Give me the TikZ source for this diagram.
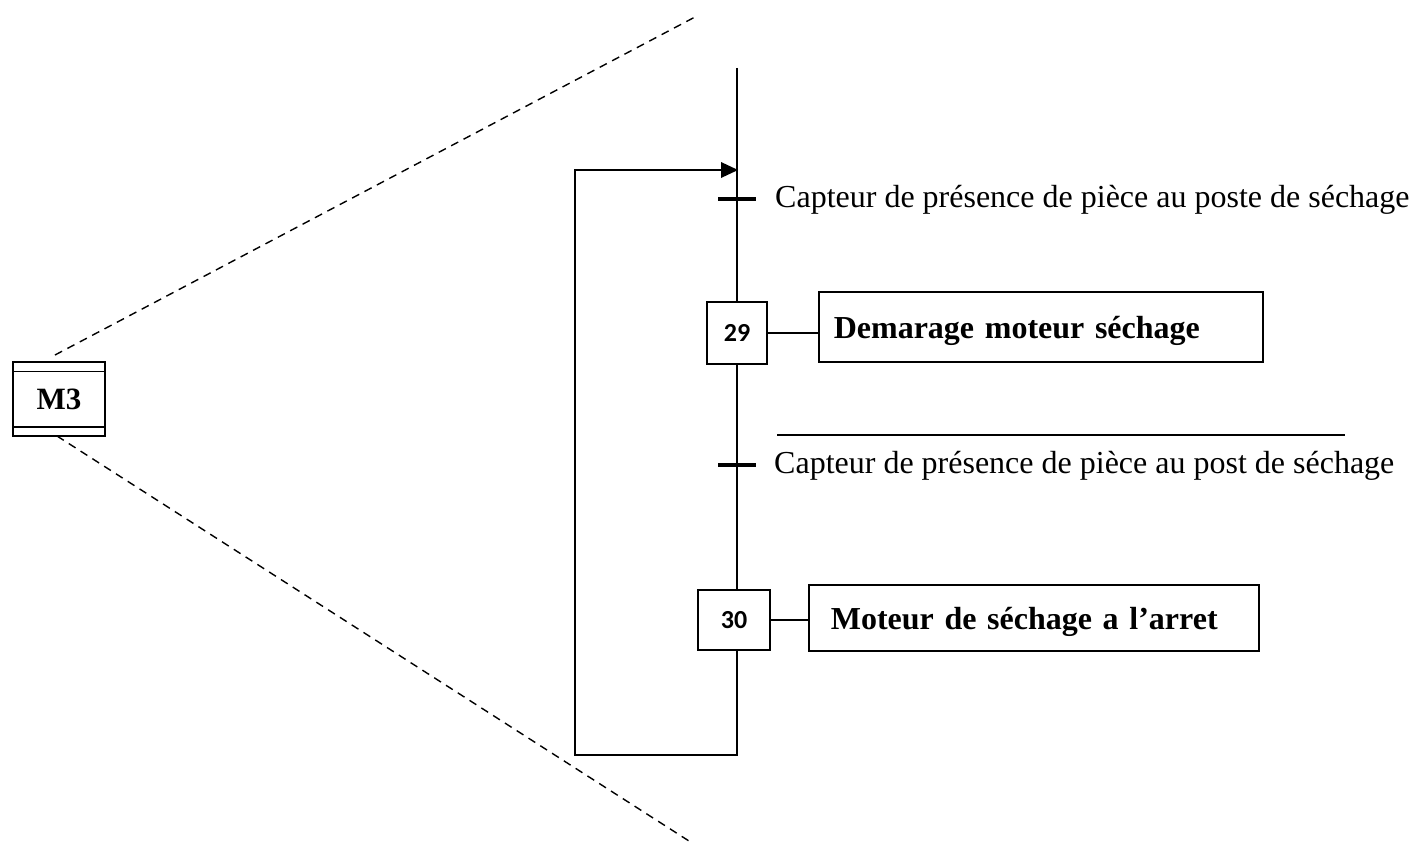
\documentclass[tikz,border=0pt]{standalone}
\usepackage{fontspec}
\setmainfont{Liberation Serif}
\newfontfamily\numfont{Carlito}
\usetikzlibrary{arrows.meta}
\tikzset{
  ln/.style={line width=1.6pt},
  stepbox/.style={draw, line width=1.6pt, inner sep=0pt, font=\numfont\fontsize{26}{30}\selectfont\bfseries},
  actbox/.style={draw, line width=1.6pt, inner sep=0pt, anchor=west, font=\fontsize{32}{36}\selectfont\bfseries, text depth=0pt},
  tick/.style={fill=black, inner sep=0pt, minimum width=38pt, minimum height=4pt},
  cond/.style={anchor=west, inner sep=0pt, font=\fontsize{32}{36}\selectfont},
  dsh/.style={line width=1.4pt, dash pattern=on 8pt off 6pt},
}
\begin{document}
\begin{tikzpicture}[x=1pt,y=-1pt]
\useasboundingbox (0,0) rectangle (1419,843);
% macro-step box
\node[draw, line width=1.6pt, minimum width=92pt, minimum height=74pt, inner sep=0pt,
      font=\fontsize{31}{34}\selectfont\bfseries] (m3) at (59,399) {M3};
\draw[line width=1.4pt] ([yshift=-10pt]m3.north west) -- ([yshift=-10pt]m3.north east);
\draw[line width=1.4pt] ([yshift=10pt]m3.south west) -- ([yshift=10pt]m3.south east);
\coordinate (d1a) at (55,355);
\coordinate (d1b) at (695,17);
\coordinate (d2a) at (57,436);
\coordinate (d2b) at (689,841);
\draw[dsh] (d1a) -- (d1b);
\draw[dsh] (d2a) -- (d2b);
% grafcet
\coordinate (top) at (737,68);
\coordinate (join) at (737,170);
\coordinate (bot) at (737,755);
\coordinate (bl) at (575,755);
\coordinate (tl) at (575,170);
\node[stepbox, minimum width=60pt, minimum height=62pt] (s29) at (737,333) {29};
\node[stepbox, minimum width=72pt, minimum height=60pt] (s30) at (734,620) {30};
\node[actbox, minimum width=444pt, minimum height=70pt, text width=430pt, align=left] (a29) at (818,327) {\hspace*{8pt}Demarage moteur séchage};
\node[actbox, minimum width=450pt, minimum height=66pt, text width=436pt, align=left] (a30) at (808,618) {\hspace*{15pt}Moteur de séchage a l’arret};
\draw[ln] (top) -- (s29.north);
\draw[ln] (s29.south) -- (s29.south |- s30.north);
\draw[ln] (s29.south |- s30.south) -- (bot) -- (bl) -- (tl) -- (join);
\draw[ln] (s29.east) -- (s29.east -| a29.west);
\draw[ln] (s30.east) -- (s30.east -| a30.west);
\fill ([xshift=1pt]join) -- ++(-17,-8) -- ++(0,16) -- cycle;
\node[tick] (t1) at (737,199) {};
\node[tick] (t2) at (737,465) {};
\node[cond] (c1) at (775,200) {Capteur de présence de pièce au poste de séchage};
\node[cond] (c2) at (774,466) {Capteur de présence de pièce au post de séchage};
\coordinate (ob1) at (777,435);
\coordinate (ob2) at (1345,435);
\draw[line width=1.4pt] (ob1) -- (ob2);
\end{tikzpicture}
\end{document}
